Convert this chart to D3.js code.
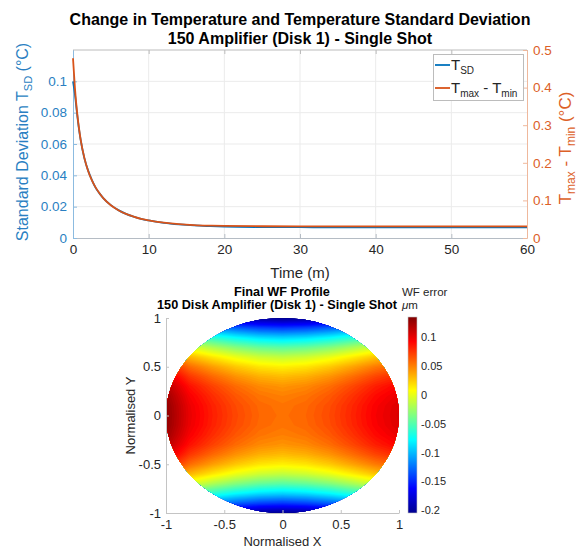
<!DOCTYPE html>
<html>
<head>
<meta charset="utf-8">
<title>Temperature and WF profile</title>
<script src="https://d3js.org/d3.v7.min.js"></script>
<style>
  body { margin: 0; background: #fff; }
  svg { font-family: "Liberation Sans", Arial, Helvetica, sans-serif; }
</style>
</head>
<body>
<svg id="chart"></svg>
<script>
// ---- data: top chart (time in minutes)
const time = [0, 0.25, 0.5, 0.75, 1, 1.5, 2, 2.5, 3, 3.5, 4, 5, 6, 7, 8, 9, 10, 12, 14, 16, 18, 20, 25, 30, 35, 40, 45, 50, 55, 60];
const tempSD = [0.100, 0.092, 0.081, 0.071, 0.063, 0.051, 0.043, 0.037, 0.032, 0.0285, 0.0255, 0.021, 0.0178, 0.0154, 0.0136, 0.0122, 0.0112, 0.0097, 0.0087, 0.0080, 0.0076, 0.0073, 0.0070, 0.0069, 0.0068, 0.0068, 0.0068, 0.0068, 0.0068, 0.0068];
const tempRange = [0.478, 0.400, 0.342, 0.298, 0.263, 0.213, 0.178, 0.153, 0.134, 0.119, 0.106, 0.087, 0.074, 0.064, 0.057, 0.051, 0.047, 0.041, 0.037, 0.0345, 0.033, 0.032, 0.0312, 0.031, 0.031, 0.031, 0.031, 0.031, 0.031, 0.031];
const timeTicks = [0, 10, 20, 30, 40, 50, 60];
const sdTicks = [0, 0.02, 0.04, 0.06, 0.08, 0.1];
const rangeTicks = [0, 0.1, 0.2, 0.3, 0.4, 0.5];

// ---- data: bottom chart, WF error (um) sampled on a normalised grid
const gridX = [-1, -0.8, -0.6, -0.4, -0.2, 0, 0.2, 0.4, 0.6, 0.8, 1];
const gridY = [1, 0.9, 0.8, 0.7, 0.6, 0.5, 0.4, 0.3, 0.2, 0.1, 0, -0.1, -0.2, -0.3, -0.4, -0.5, -0.6, -0.7, -0.8, -0.9, -1];
const wfError = [
  [-0.130, -0.160, -0.177, -0.191, -0.201, -0.205, -0.201, -0.192, -0.179, -0.165, -0.155],
  [-0.070, -0.100, -0.117, -0.131, -0.141, -0.145, -0.141, -0.132, -0.119, -0.105, -0.095],
  [-0.017, -0.047, -0.064, -0.078, -0.088, -0.092, -0.088, -0.079, -0.066, -0.052, -0.042],
  [0.027, -0.003, -0.020, -0.034, -0.044, -0.048, -0.044, -0.035, -0.022, -0.008, 0.002],
  [0.062, 0.032, 0.015, 0.001, -0.009, -0.013, -0.009, 0.000, 0.013, 0.027, 0.037],
  [0.087, 0.057, 0.040, 0.026, 0.016, 0.012, 0.016, 0.025, 0.038, 0.052, 0.062],
  [0.105, 0.075, 0.058, 0.044, 0.034, 0.030, 0.034, 0.043, 0.056, 0.070, 0.080],
  [0.118, 0.088, 0.071, 0.057, 0.047, 0.043, 0.047, 0.056, 0.069, 0.083, 0.093],
  [0.125, 0.095, 0.078, 0.064, 0.054, 0.050, 0.054, 0.063, 0.076, 0.090, 0.100],
  [0.129, 0.099, 0.082, 0.068, 0.058, 0.054, 0.058, 0.067, 0.080, 0.094, 0.104],
  [0.130, 0.100, 0.083, 0.069, 0.059, 0.055, 0.059, 0.068, 0.081, 0.095, 0.105],
  [0.129, 0.099, 0.082, 0.068, 0.058, 0.054, 0.058, 0.067, 0.080, 0.094, 0.104],
  [0.125, 0.095, 0.078, 0.064, 0.054, 0.050, 0.054, 0.063, 0.076, 0.090, 0.100],
  [0.118, 0.088, 0.071, 0.057, 0.047, 0.043, 0.047, 0.056, 0.069, 0.083, 0.093],
  [0.105, 0.075, 0.058, 0.044, 0.034, 0.030, 0.034, 0.043, 0.056, 0.070, 0.080],
  [0.087, 0.057, 0.040, 0.026, 0.016, 0.012, 0.016, 0.025, 0.038, 0.052, 0.062],
  [0.062, 0.032, 0.015, 0.001, -0.009, -0.013, -0.009, 0.000, 0.013, 0.027, 0.037],
  [0.027, -0.003, -0.020, -0.034, -0.044, -0.048, -0.044, -0.035, -0.022, -0.008, 0.002],
  [-0.017, -0.047, -0.064, -0.078, -0.088, -0.092, -0.088, -0.079, -0.066, -0.052, -0.042],
  [-0.070, -0.100, -0.117, -0.131, -0.141, -0.145, -0.141, -0.132, -0.119, -0.105, -0.095],
  [-0.130, -0.160, -0.177, -0.191, -0.201, -0.205, -0.201, -0.192, -0.179, -0.165, -0.155]
];
const normTicks = [-1, -0.5, 0, 0.5, 1];
const cbarTicks = [-0.2, -0.15, -0.1, -0.05, 0, 0.05, 0.1];
const cMin = -0.205, cMax = 0.135;

const blue = "#0072BD", orange = "#D95319";
const sdColor = "#2a7fc2", rangeColor = "#dc6027", ink = "#262626";

const svg = d3.select("#chart").attr("width", 584).attr("height", 548);
svg.append("rect").attr("width", 584).attr("height", 548).attr("fill", "#fff");

// ================= top chart =================
const m1 = {left: 73, right: 527, top: 50, bottom: 238};
const x = d3.scaleLinear().domain([0, 60]).range([m1.left, m1.right]);
const ySD = d3.scaleLinear().domain([0, 0.12]).range([m1.bottom, m1.top]);
const yRange = d3.scaleLinear().domain([0, 0.5]).range([m1.bottom, m1.top]);

// grid
svg.append("g").selectAll("line").data(timeTicks.slice(1, -1)).join("line")
  .attr("x1", d => x(d)).attr("x2", d => x(d))
  .attr("y1", m1.top).attr("y2", m1.bottom)
  .attr("stroke", "#ebebeb");
svg.append("g").selectAll("line").data(sdTicks.slice(1)).join("line")
  .attr("x1", m1.left).attr("x2", m1.right)
  .attr("y1", d => ySD(d)).attr("y2", d => ySD(d))
  .attr("stroke", "#ebebeb");

// top border
svg.append("line").attr("x1", m1.left).attr("x2", m1.right)
  .attr("y1", m1.top).attr("y2", m1.top).attr("stroke", "#bcbcbc");
svg.append("g").attr("transform", `translate(0,${m1.top})`)
  .call(d3.axisTop(x).tickValues(timeTicks).tickSize(-4).tickFormat(""))
  .call(g => g.select(".domain").remove())
  .call(g => g.selectAll("line").attr("stroke", "#bcbcbc"));

// bottom axis
svg.append("g").attr("transform", `translate(0,${m1.bottom})`)
  .call(d3.axisBottom(x).tickValues(timeTicks).tickSize(-4).tickSizeOuter(0).tickPadding(6).tickFormat(d => String(d)))
  .call(g => g.select(".domain").attr("stroke", "#b5bcc4"))
  .call(g => g.selectAll("line").attr("stroke", "#b5bcc4"))
  .call(g => g.selectAll("text").attr("fill", ink).attr("font-size", 13.5).attr("font-family", null));

// left axis
svg.append("g").attr("transform", `translate(${m1.left},0)`)
  .call(d3.axisLeft(ySD).tickValues(sdTicks).tickSize(-4).tickSizeOuter(0).tickPadding(6).tickFormat(d => String(d)))
  .call(g => g.select(".domain").attr("stroke", "#8cbbe0"))
  .call(g => g.selectAll("line").attr("stroke", "#8cbbe0"))
  .call(g => g.selectAll("text").attr("fill", sdColor).attr("font-size", 13.5).attr("font-family", null));

// right axis
svg.append("g").attr("transform", `translate(${m1.right},0)`)
  .call(d3.axisRight(yRange).tickValues(rangeTicks).tickSize(-4).tickSizeOuter(0).tickPadding(6).tickFormat(d => String(d)))
  .call(g => g.select(".domain").attr("stroke", "#efb89c"))
  .call(g => g.selectAll("line").attr("stroke", "#efb89c"))
  .call(g => g.selectAll("text").attr("fill", rangeColor).attr("font-size", 13.5).attr("font-family", null));

// lines
const lineSD = d3.line().x((d, i) => x(time[i])).y(d => ySD(d)).curve(d3.curveMonotoneX);
const lineRange = d3.line().x((d, i) => x(time[i])).y(d => yRange(d)).curve(d3.curveMonotoneX);
svg.append("path").datum(tempSD).attr("d", lineSD)
  .attr("fill", "none").attr("stroke", blue).attr("stroke-width", 1.8);
svg.append("path").datum(tempRange).attr("d", lineRange)
  .attr("fill", "none").attr("stroke", orange).attr("stroke-width", 1.8);

// titles
svg.append("text").attr("x", 300).attr("y", 25).attr("text-anchor", "middle")
  .attr("font-size", 16).attr("font-weight", "bold").attr("fill", "#000")
  .text("Change in Temperature and Temperature Standard Deviation");
svg.append("text").attr("x", 300).attr("y", 44).attr("text-anchor", "middle")
  .attr("font-size", 16).attr("font-weight", "bold").attr("fill", "#000")
  .text("150 Amplifier (Disk 1) - Single Shot");

// x label
svg.append("text").attr("x", 300).attr("y", 278).attr("text-anchor", "middle")
  .attr("font-size", 15).attr("fill", ink).text("Time (m)");

// left y label
const yl = svg.append("text").attr("transform", "translate(28,142) rotate(-90)")
  .attr("text-anchor", "middle").attr("font-size", 16).attr("fill", sdColor);
yl.append("tspan").text("Standard Deviation T");
yl.append("tspan").attr("font-size", 11).attr("dy", 4).text("SD");
yl.append("tspan").attr("dy", -4).text(" (°C)");

// right y label
const yr = svg.append("text").attr("transform", "translate(571,148) rotate(-90)")
  .attr("text-anchor", "middle").attr("font-size", 17).attr("fill", rangeColor);
yr.append("tspan").text("T");
yr.append("tspan").attr("font-size", 12).attr("dy", 4).text("max");
yr.append("tspan").attr("dy", -4).text(" - T");
yr.append("tspan").attr("font-size", 12).attr("dy", 4).text("min");
yr.append("tspan").attr("dy", -4).text(" (°C)");

// legend
const lg = svg.append("g");
lg.append("rect").attr("x", 433.5).attr("y", 54.5).attr("width", 90).attr("height", 46)
  .attr("fill", "#fff").attr("stroke", "#bcbcbc");
const legendItems = [
  {color: blue, parts: [["T", 0, 15], ["SD", 4, 10]]},
  {color: orange, parts: [["T", 0, 15], ["max", 4, 10], [" - T", -4, 15], ["min", 4, 10]]}
];
legendItems.forEach((it, i) => {
  const ly = 65 + i * 23;
  lg.append("line").attr("x1", 435).attr("x2", 450).attr("y1", ly).attr("y2", ly)
    .attr("stroke", it.color).attr("stroke-width", 1.8);
  const t = lg.append("text").attr("x", 451).attr("y", ly + 5).attr("fill", ink);
  it.parts.forEach(p => t.append("tspan").attr("dy", p[1]).attr("font-size", p[2]).text(p[0]));
});

// ================= bottom chart =================
const m2 = {left: 166, right: 399, top: 318, bottom: 513};
const nx = d3.scaleLinear().domain([-1, 1]).range([m2.left, m2.right]);
const ny = d3.scaleLinear().domain([-1, 1]).range([m2.bottom, m2.top]);

const jetStops = [0, 0.125, 0.375, 0.625, 0.875, 1];
const jetColors = ["#00008f", "#0000ff", "#00ffff", "#ffff00", "#ff0000", "#800000"];
const color = d3.scaleLinear()
  .domain(jetStops.map(f => cMin + f * (cMax - cMin)))
  .range(jetColors).clamp(true);

const defs = svg.append("defs");
defs.append("clipPath").attr("id", "disk").append("ellipse")
  .attr("cx", nx(0)).attr("cy", ny(0))
  .attr("rx", (nx(1) - nx(-1)) / 2).attr("ry", (ny(-1) - ny(1)) / 2);

const step = 0.003;
const contours = d3.contours()
  .size([gridX.length, gridY.length])
  .thresholds(d3.range(cMin - 0.006, cMax + step, step))(wfError.flat());
const gdx = gridX[1] - gridX[0], gdy = gridY[1] - gridY[0];
const proj = d3.geoTransform({
  point(px, py) {
    this.stream.point(nx(gridX[0] + (px - 0.5) * gdx), ny(gridY[0] + (py - 0.5) * gdy));
  }
});
svg.append("g").attr("clip-path", "url(#disk)")
  .selectAll("path").data(contours).join("path")
  .attr("d", d3.geoPath(proj))
  .attr("fill", d => color(d.value + step / 2));

// axes (left and bottom)
svg.append("g").attr("transform", `translate(0,${m2.bottom})`)
  .call(d3.axisBottom(nx).tickValues(normTicks).tickSize(-3).tickSizeOuter(0).tickPadding(7).tickFormat(d => String(d)))
  .call(g => g.select(".domain").attr("stroke", "#c4c4c4"))
  .call(g => g.selectAll("line").attr("stroke", "#c4c4c4"))
  .call(g => g.selectAll("text").attr("fill", ink).attr("font-size", 13).attr("font-family", null));
svg.append("g").attr("transform", `translate(${m2.left},0)`)
  .call(d3.axisLeft(ny).tickValues(normTicks).tickSize(-3).tickSizeOuter(0).tickPadding(5).tickFormat(d => String(d)))
  .call(g => g.select(".domain").attr("stroke", "#c4c4c4"))
  .call(g => g.selectAll("line").attr("stroke", "#c4c4c4"))
  .call(g => g.selectAll("text").attr("fill", ink).attr("font-size", 13).attr("font-family", null));

svg.append("text").attr("x", nx(0)).attr("y", 546).attr("text-anchor", "middle")
  .attr("font-size", 13).attr("fill", ink).text("Normalised X");
svg.append("text").attr("transform", `translate(135,${ny(0)}) rotate(-90)`).attr("text-anchor", "middle")
  .attr("font-size", 13).attr("fill", ink).text("Normalised Y");

svg.append("text").attr("x", 282).attr("y", 296).attr("text-anchor", "middle")
  .attr("font-size", 12.7).attr("font-weight", "bold").attr("fill", "#000").text("Final WF Profile");
svg.append("text").attr("x", 277).attr("y", 309).attr("text-anchor", "middle")
  .attr("font-size", 12.7).attr("font-weight", "bold").attr("fill", "#000").text("150 Disk Amplifier (Disk 1) - Single Shot");

// colorbar
const cb = d3.scaleLinear().domain([cMin, cMax]).range([513, 317]);
const grad = defs.append("linearGradient").attr("id", "jet")
  .attr("x1", 0).attr("y1", 1).attr("x2", 0).attr("y2", 0);
grad.selectAll("stop").data(d3.range(0, 1.0001, 0.0625)).join("stop")
  .attr("offset", d => d)
  .attr("stop-color", d => color(cMin + d * (cMax - cMin)));
svg.append("rect").attr("x", 408).attr("y", cb(cMax)).attr("width", 9).attr("height", cb(cMin) - cb(cMax))
  .attr("fill", "url(#jet)").attr("stroke", "#c4c4c4").attr("stroke-width", 0.6);
svg.append("g").attr("transform", "translate(417,0)")
  .call(d3.axisRight(cb).tickValues(cbarTicks).tickSize(0).tickPadding(4).tickFormat(d => String(d)))
  .call(g => g.select(".domain").remove())
  .call(g => g.selectAll("text").attr("fill", ink).attr("font-size", 11).attr("font-family", null));

svg.append("text").attr("x", 402).attr("y", 296)
  .attr("font-size", 11.5).attr("fill", ink).text("WF error");
const um = svg.append("text").attr("x", 402).attr("y", 309).attr("font-size", 11.5).attr("fill", ink);
um.append("tspan").attr("font-style", "italic").text("μ");
um.append("tspan").text("m");
</script>
</body>
</html>
